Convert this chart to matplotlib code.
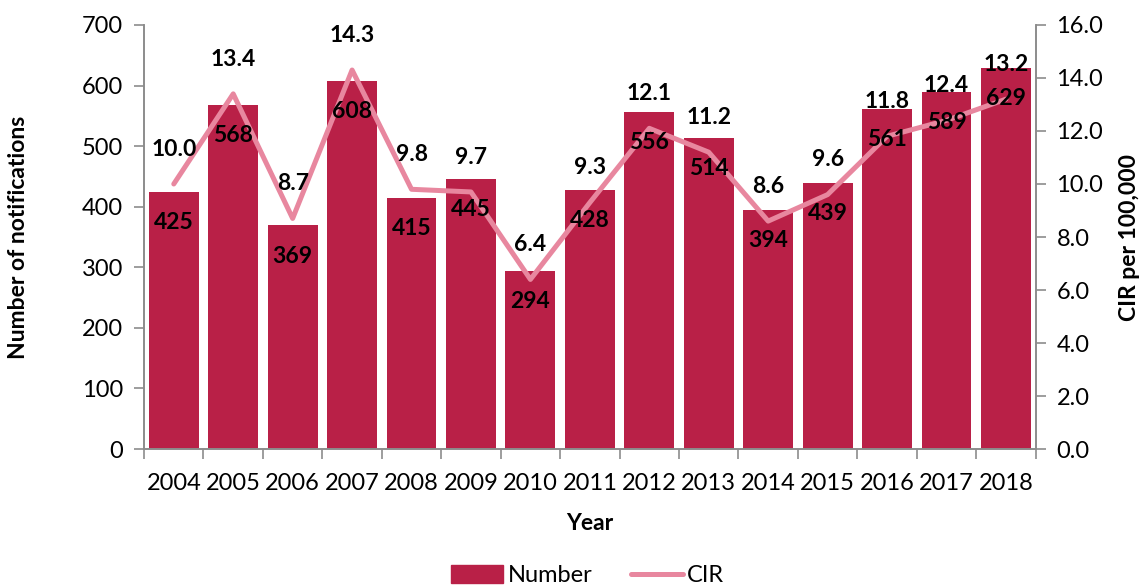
import matplotlib.pyplot as plt
import numpy as np
from matplotlib.lines import Line2D
from matplotlib.patches import Patch

plt.rcParams['font.family'] = ['Lato', 'DejaVu Sans']

years = ["2004", "2005", "2006", "2007", "2008", "2009", "2010", "2011",
         "2012", "2013", "2014", "2015", "2016", "2017", "2018"]
number = [425, 568, 369, 608, 415, 445, 294, 428, 556, 514, 394, 439, 561, 589, 629]
cir = [10.0, 13.4, 8.7, 14.3, 9.8, 9.7, 6.4, 9.3, 12.1, 11.2, 8.6, 9.6, 11.8, 12.4, 13.2]

bar_col = "#B92047"
line_col = "#E8879F"
axis_col = "#8C8C8C"

fig = plt.figure(figsize=(11.46, 5.87), dpi=100)
ax = fig.add_axes([0.1257, 0.235, 0.778, 0.7225])
ax2 = ax.twinx()

x = np.arange(len(years))
ax.bar(x, number, width=0.84, color=bar_col, zorder=2)
ax2.plot(x, cir, color=line_col, lw=3.6, solid_capstyle="round", zorder=3)

ax.set_xlim(-0.5, len(years) - 0.5)
ax.set_ylim(0, 700)
ax2.set_ylim(0, 16)
ax.set_yticks(range(0, 701, 100))
ax2.set_yticks(np.arange(0, 16.1, 2))
ax2.set_yticklabels([f"{v:.1f}" for v in np.arange(0, 16.1, 2)])

# category labels between the boundary ticks
ax.set_xticks(np.arange(-0.5, len(years), 1))
ax.set_xticklabels([])
ax.set_xticks(x, minor=True)
ax.set_xticklabels(years, minor=True)
ax.tick_params(axis="x", which="minor", length=0, pad=17, labelsize=17)
ax.tick_params(axis="x", which="major", length=7, color=axis_col, width=1.2)
ax.tick_params(axis="y", length=7, color=axis_col, width=1.2, labelsize=17, pad=8)
ax2.tick_params(axis="y", length=7, color=axis_col, width=1.2, labelsize=17, pad=8)

for a in (ax, ax2):
    a.spines["top"].set_visible(False)
    for s in ("left", "right", "bottom"):
        a.spines[s].set_color(axis_col)
        a.spines[s].set_linewidth(1.2)

# value labels go on the top axes so they sit over the CIR line
for xi, n in zip(x, number):
    ax2.annotate(str(n), (xi, n), xycoords=ax.transData, xytext=(0, -22),
                 textcoords="offset points", ha="center", va="center",
                 fontsize=16.5, fontweight="bold", zorder=5)
for xi, c in zip(x, cir):
    ax2.annotate(f"{c:.1f}", (xi, c), xytext=(0, 25), textcoords="offset points",
                 ha="center", va="center", fontsize=16.5, fontweight="bold", zorder=5)

ax.set_xlabel("Year", fontsize=16.5, fontweight="bold")
ax.xaxis.set_label_coords(0.5, -0.15)
ax.set_ylabel("Number of notifications", fontsize=16.5, fontweight="bold")
ax.yaxis.set_label_coords(-0.129, 0.5)
ax2.set_ylabel("CIR per 100,000", fontsize=16.5, fontweight="bold", rotation=90)
ax2.yaxis.set_label_coords(1.094, 0.5)

handles = [Patch(color=bar_col, label="Number"),
           Line2D([0], [0], color=line_col, lw=3.6, solid_capstyle="round", label="CIR")]
fig.legend(handles=handles, loc="lower center", bbox_to_anchor=(0.513, -0.035), ncol=2,
           frameon=False, fontsize=17, handlelength=2.2, handleheight=0.8,
           columnspacing=1.6, handletextpad=0.2)

fig.savefig("out.png", dpi=100)
